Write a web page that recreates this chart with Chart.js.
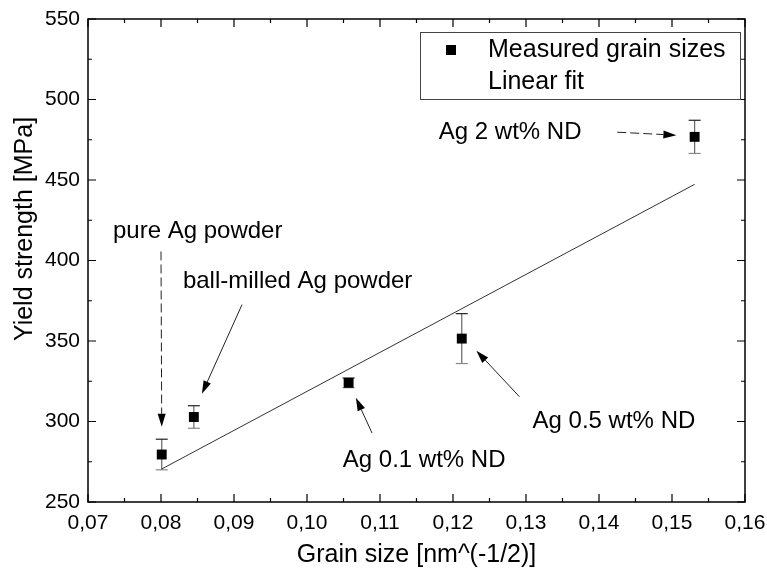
<!DOCTYPE html>
<html><head><meta charset="utf-8">
<script src="https://cdn.jsdelivr.net/npm/chart.js@4.4.0/dist/chart.umd.min.js"></script>
<style>html,body{margin:0;padding:0;background:#fff}#wrap{width:767px;height:576px;position:relative}</style>
</head><body><div id="wrap"><canvas id="c"></canvas></div>
<script>
// ---- data ----
const grainSize = [0.0801, 0.0845, 0.1057, 0.1212, 0.1531];
const yieldStrength = [279.5, 302.8, 324.0, 351.5, 476.8];
const yieldError = [9.5, 7.0, 3.0, 15.5, 10.3];
const sampleNames = ['pure Ag powder', 'ball-milled Ag powder', 'Ag 0.1 wt% ND', 'Ag 0.5 wt% ND', 'Ag 2 wt% ND'];
const fitX = [0.0801, 0.1531];
const fitY = [270.5, 447.3];
const xTickValues = [0.07, 0.08, 0.09, 0.10, 0.11, 0.12, 0.13, 0.14, 0.15, 0.16];
const yTickValues = [250, 300, 350, 400, 450, 500, 550];
const seriesNames = ['Measured grain sizes', 'Linear fit'];
const xTitle = 'Grain size [nm^(-1/2)]';
const yTitle = 'Yield strength [MPa]';

// annotation placement (data coordinates)
const notes = [
  {i:0, tx:0.07342, ty:418.0, align:'left',  from:[0.0800,405.6], to:[0.0801,296.7], dashed:true},
  {i:1, tx:0.0830,  ty:386.9, align:'left',  from:[0.0911,372.6], to:[0.0856,317.2], dashed:false},
  {i:2, tx:0.1049,  ty:276.1, align:'left',  from:[0.1089,292.9], to:[0.1067,314.7], dashed:false},
  {i:3, tx:0.1309,  ty:299.8, align:'left',  from:[0.1291,315.4], to:[0.1232,344.0], dashed:false},
  {i:4, tx:0.1376,  ty:479.7, align:'right', from:[0.1425,479.7], to:[0.1506,477.8], dashed:true}
];

const FONT = '"Liberation Sans", Arial, sans-serif';
const fmt = v => v.toFixed(2).replace('.', ',');

function drawArrow(ctx, x1, y1, x2, y2, dashed) {
  const a = Math.atan2(y2 - y1, x2 - x1);
  const hl = 13, hw = 4;
  const bx = x2 - hl * Math.cos(a), by = y2 - hl * Math.sin(a);
  ctx.save();
  ctx.strokeStyle = '#222'; ctx.lineWidth = 1;
  if (dashed) ctx.setLineDash([9, 4]);
  ctx.beginPath(); ctx.moveTo(x1, y1); ctx.lineTo(bx, by); ctx.stroke();
  ctx.setLineDash([]);
  ctx.fillStyle = '#000';
  ctx.beginPath(); ctx.moveTo(x2, y2);
  ctx.lineTo(bx + hw * Math.sin(a), by - hw * Math.cos(a));
  ctx.lineTo(bx - hw * Math.sin(a), by + hw * Math.cos(a));
  ctx.closePath(); ctx.fill();
  ctx.restore();
}

const errorBars = {
  id: 'errorBars',
  beforeDatasetsDraw(chart) {
    const {ctx, scales: {x, y}} = chart;
    ctx.save();
    grainSize.forEach((g, k) => {
      const px = x.getPixelForValue(g);
      const yt = y.getPixelForValue(yieldStrength[k] + yieldError[k]);
      const yb = y.getPixelForValue(yieldStrength[k] - yieldError[k]);
      ctx.lineWidth = 1.2;
      ctx.strokeStyle = '#666';
      ctx.beginPath(); ctx.moveTo(px, yt); ctx.lineTo(px, yb); ctx.stroke();
      ctx.strokeStyle = '#222';
      ctx.beginPath(); ctx.moveTo(px - 6, yt); ctx.lineTo(px + 6, yt); ctx.stroke();
      ctx.strokeStyle = '#888';
      ctx.beginPath(); ctx.moveTo(px - 6, yb); ctx.lineTo(px + 6, yb); ctx.stroke();
    });
    ctx.restore();
  }
};

const frame = {
  id: 'frame',
  afterDraw(chart) {
    const {ctx, chartArea: ca, scales: {x, y}} = chart;
    ctx.save();
    ctx.strokeStyle = '#000'; ctx.lineWidth = 1.5;
    ctx.strokeRect(ca.left, ca.top, ca.right - ca.left, ca.bottom - ca.top);
    ctx.lineWidth = 1.2;
    const xs = xTickValues, ys = yTickValues;
    const dxs = (xs[1] - xs[0]) / 2, dys = (ys[1] - ys[0]) / 2;
    ctx.beginPath();
    for (let k = 0; k < xs.length; k++) {
      [[xs[k], 8], [xs[k] + dxs, 4]].forEach(([v, L]) => {
        if (v > xs[xs.length - 1] + 1e-9) return;
        const p = x.getPixelForValue(v);
        ctx.moveTo(p, ca.bottom); ctx.lineTo(p, ca.bottom - L);
        ctx.moveTo(p, ca.top); ctx.lineTo(p, ca.top + L);
      });
    }
    for (let k = 0; k < ys.length; k++) {
      [[ys[k], 8], [ys[k] + dys, 4]].forEach(([v, L]) => {
        if (v > ys[ys.length - 1] + 1e-9) return;
        const p = y.getPixelForValue(v);
        ctx.moveTo(ca.left, p); ctx.lineTo(ca.left + L, p);
        ctx.moveTo(ca.right, p); ctx.lineTo(ca.right - L, p);
      });
    }
    ctx.stroke();

    // axis titles
    ctx.fillStyle = '#000';
    ctx.font = '25px ' + FONT;
    ctx.textAlign = 'center'; ctx.textBaseline = 'middle';
    ctx.fillText(xTitle, (ca.left + ca.right) / 2, 555);
    ctx.save();
    ctx.translate(25, 229); ctx.rotate(-Math.PI / 2);
    ctx.fillText(yTitle, 0, 0);
    ctx.restore();

    // annotations
    ctx.font = '24px ' + FONT;
    notes.forEach(n => {
      ctx.textAlign = n.align; ctx.textBaseline = 'middle';
      ctx.fillText(sampleNames[n.i], x.getPixelForValue(n.tx), y.getPixelForValue(n.ty));
      drawArrow(ctx, x.getPixelForValue(n.from[0]), y.getPixelForValue(n.from[1]),
                x.getPixelForValue(n.to[0]), y.getPixelForValue(n.to[1]), n.dashed);
    });

    // legend
    const L = 420, T = 32, R = 740, B = 99;
    ctx.strokeStyle = '#444'; ctx.lineWidth = 1;
    ctx.strokeRect(L + 0.5, T + 0.5, R - L, B - T);
    ctx.fillStyle = '#000';
    ctx.fillRect(451 - 5, 50 - 5, 10, 10);
    ctx.font = '25px ' + FONT;
    ctx.textAlign = 'left';
    ctx.fillText(seriesNames[0], 488, 50);
    ctx.fillText(seriesNames[1], 488, 82);
    ctx.restore();
  }
};

new Chart(document.getElementById('c'), {
  type: 'scatter',
  data: {
    datasets: [
      {
        label: seriesNames[0],
        data: grainSize.map((g, k) => ({x: g, y: yieldStrength[k]})),
        pointStyle: 'rect', pointRadius: 7, pointHoverRadius: 7,
        backgroundColor: '#000', borderColor: '#000', borderWidth: 0, order: 1
      },
      {
        label: seriesNames[1], type: 'line',
        data: fitX.map((g, k) => ({x: g, y: fitY[k]})),
        borderColor: '#333', borderWidth: 1, pointRadius: 0, fill: false, order: 2
      }
    ]
  },
  options: {
    responsive: true, maintainAspectRatio: false, animation: false,
    layout: {padding: {left: 0, top: 19, right: 22, bottom: 0}},
    plugins: {legend: {display: false}, tooltip: {enabled: false}},
    scales: {
      x: {
        type: 'linear', min: xTickValues[0], max: xTickValues[xTickValues.length - 1],
        afterBuildTicks: s => { s.ticks = xTickValues.map(v => ({value: v})); },
        afterFit: s => { s.height = 74; s.paddingLeft = 0; s.paddingRight = 0; },
        grid: {display: false, drawTicks: false}, border: {display: false},
        ticks: {padding: 9, color: '#000', font: {family: FONT, size: 21}, callback: v => fmt(v), maxRotation: 0, autoSkip: false}
      },
      y: {
        type: 'linear', min: yTickValues[0], max: yTickValues[yTickValues.length - 1],
        afterBuildTicks: s => { s.ticks = yTickValues.map(v => ({value: v})); },
        afterFit: s => { s.width = 88; s.paddingTop = 0; s.paddingBottom = 0; },
        grid: {display: false, drawTicks: false}, border: {display: false},
        ticks: {padding: 8, color: '#000', font: {family: FONT, size: 21}}
      }
    }
  },
  plugins: [errorBars, frame]
});
</script></body></html>
